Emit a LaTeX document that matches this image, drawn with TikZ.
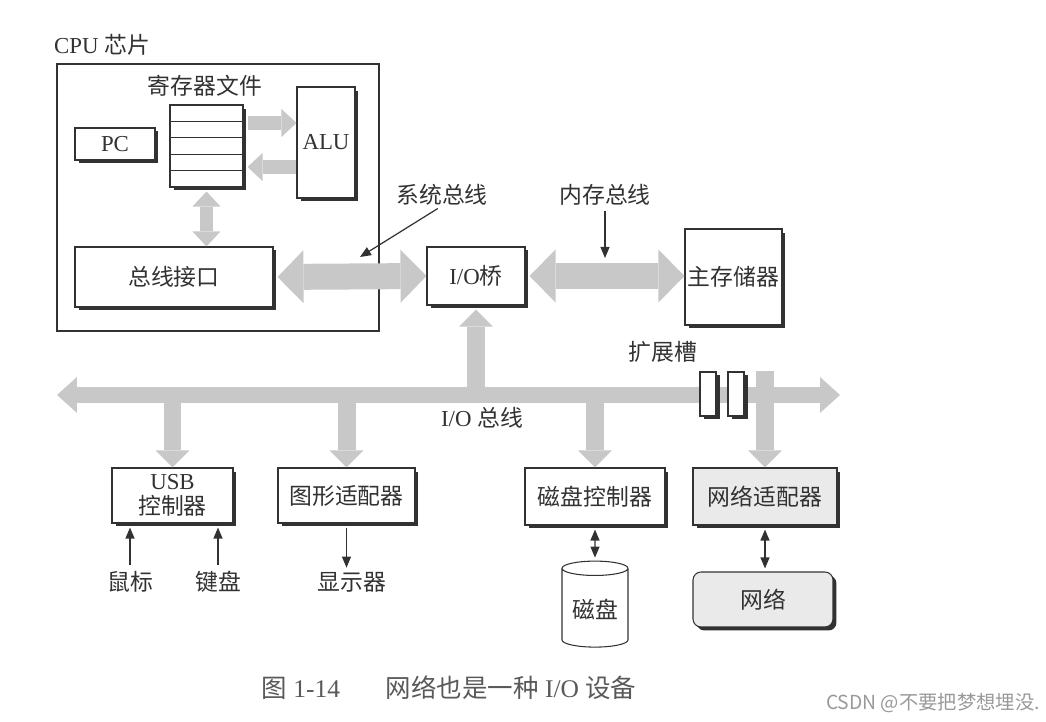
\documentclass[tikz,border=0pt]{standalone}
\usepackage{fontspec}
\setmainfont{Liberation Serif}
\newfontfamily\cjk{Noto Sans CJK SC}
\usetikzlibrary{arrows.meta,positioning,calc,shadows,shapes.geometric}
\definecolor{tc}{RGB}{50,50,50}
\definecolor{bc}{RGB}{200,200,200}
\definecolor{nc}{RGB}{234,234,234}
\newcommand{\zh}[1]{{\cjk #1}}
\tikzset{every node/.style={font=\fontsize{13}{14}\selectfont,text=tc},
 lbl/.style={inner sep=0pt},
 chip/.style={draw=tc,line width=1.2pt,minimum width=6.44cm,minimum height=5.34cm},
 box/.style={draw=tc,fill=white,line width=.6pt,inner sep=1pt,align=center,
  drop shadow={shadow xshift=.07cm,shadow yshift=-.07cm,fill=tc,opacity=1}},
 pale/.style={box,fill=nc},
 cyl/.style={cylinder,shape border rotate=90,aspect=.25,draw=tc,fill=white,line width=.6pt,
  minimum width=1.32cm,minimum height=1.72cm},
 mar/.style={bc,line width=.28cm,arrows={-Triangle[length=.3cm,width=.56cm,line width=0pt]}},
 mbi/.style={bc,line width=.28cm,arrows={Triangle[length=.3cm,width=.56cm,line width=0pt]-Triangle[length=.3cm,width=.56cm,line width=0pt]}},
 bbi/.style={bc,line width=.52cm,arrows={Triangle[length=.52cm,width=1.06cm,line width=0pt]-Triangle[length=.52cm,width=1.06cm,line width=0pt]}},
 iob/.style={bc,line width=.32cm,arrows={Triangle[length=.4cm,width=.72cm,line width=0pt]-Triangle[length=.4cm,width=.72cm,line width=0pt]}},
 dar/.style={bc,line width=.36cm,arrows={-Triangle[length=.34cm,width=.68cm,line width=0pt]}},
 tar/.style={tc,line width=.7pt,arrows={-Triangle[length=.22cm,width=.18cm]}},
 tbi/.style={tc,line width=.7pt,arrows={Triangle[length=.22cm,width=.18cm]-Triangle[length=.22cm,width=.18cm]}}}
\begin{document}
\begin{tikzpicture}[x=.02cm,y=-.02cm]
\useasboundingbox (0,0) rectangle (1046,722);
% CPU chip
\node[lbl] (cpul) at (102,45) {CPU \zh{芯片}};
\node[chip] (cpu) at (218,197.5) {};
\node[lbl] (regl) at (205,86) {\zh{寄存器文件}};
\node[box,minimum width=1.46cm,minimum height=1.64cm] (reg) at (206.5,146) {};
\foreach \k in {1,...,4}
  \draw[tc,line width=.6pt] ($(reg.north west)!\k/5!(reg.south west)$) -- ($(reg.north east)!\k/5!(reg.south east)$);
\node[box,minimum width=1.16cm,minimum height=2.22cm] (alu) at (326,142.5) {ALU};
\node[box,minimum width=1.6cm,minimum height=.64cm] (pc) at (115,144) {PC};
\node[box,minimum width=3.96cm,minimum height=1.2cm] (bi) at (174,277) {\zh{总线接口}};
\coordinate (ra) at ([yshift=.46cm]reg.east);
\coordinate (rb) at ([yshift=-.42cm]reg.east);
\draw[mar,shorten <=.08cm] (ra) -- (ra -| alu.west);
\draw[mar,shorten >=.08cm] (rb -| alu.west) -- (rb);
\draw[mbi,shorten <=.08cm] (reg.south) -- (reg.south |- bi.north);
% bridge and memory
\node[box,minimum width=1.96cm,minimum height=1.16cm] (bridge) at (476,276) {I/O\zh{桥}};
\node[box,minimum width=1.94cm,minimum height=1.92cm] (mem) at (733.5,277) {\zh{主存储器}};
\draw[bbi,shorten <=.08cm] (bi.east) -- (bridge.west);
\draw[bbi,shorten <=.08cm] (bridge.east) -- (bridge.east -| mem.west);
\node[lbl] (sysl) at (442,195) {\zh{系统总线}};
\node[lbl] (meml) at (605,195) {\zh{内存总线}};
\coordinate (sp) at (360,257);
\coordinate (mp) at (605,258);
\draw[tar,shorten <=.1cm] (sysl.south) -- (sp);
\draw[tar,shorten <=.1cm] (meml.south) -- (mp);
% I/O bus
\coordinate (bl) at (57,395);
\coordinate (br) at (840,395);
\draw[iob] (bl) -- (br);
\draw[dar,shorten >=.08cm] (bridge.south |- bl) -- (bridge.south);
\node[box,minimum width=.32cm,minimum height=.88cm] (sl1) at (708,394) {};
\node[box,minimum width=.32cm,minimum height=.88cm] (sl2) at (736,394) {};
\node[lbl] (slotl) at (663,352) {\zh{扩展槽}};
\node[lbl] (iobl) at (482,418) {I/O \zh{总线}};
% devices
\node[box,minimum width=2.42cm,minimum height=1.1cm] (usb) at (172.5,495.5) {USB\\\zh{控制器}};
\node[box,minimum width=2.74cm,minimum height=1.1cm] (gfx) at (346.5,495.5) {\zh{图形适配器}};
\node[box,minimum width=2.8cm,minimum height=1.14cm] (dctl) at (595,496.5) {\zh{磁盘控制器}};
\node[pale,minimum width=2.88cm,minimum height=1.14cm] (netad) at (765,496.5) {\zh{网络适配器}};
\foreach \d in {usb,gfx,dctl}
  \draw[dar] (\d.north |- bl) -- (\d.north);
\draw[dar] (netad.north |- sl2.north) -- (netad.north);
\node[lbl] (mouse) at (130,582) {\zh{鼠标}};
\node[lbl] (kbd) at (218,582) {\zh{键盘}};
\node[lbl] (disp) at (352,582) {\zh{显示器}};
\node[cyl] (disk) at (595,610) {\zh{磁盘}};
\node[pale,rounded corners=.16cm,minimum width=2.8cm,minimum height=1.1cm] (net) at (763,599.5) {\zh{网络}};
\draw[tar,shorten <=.12cm,shorten >=.08cm] (mouse.north) -- (mouse.north |- usb.south);
\draw[tar,shorten <=.12cm,shorten >=.08cm] (kbd.north) -- (kbd.north |- usb.south);
\draw[tar,shorten <=.08cm,shorten >=.08cm] (gfx.south) -- (gfx.south |- disp.north);
\draw[tbi,shorten <=.08cm,shorten >=.06cm] (dctl.south) -- (disk.north);
\draw[tbi,shorten <=.08cm,shorten >=.06cm] (netad.south) -- (netad.south |- net.north);
% caption
\node[lbl,font=\fontsize{14.5}{16}\selectfont,text=black!65] (cap) at (449,688)
  {\zh{图}~1-14\hspace{1.8em}\zh{网络也是一种}~I/O~\zh{设备}};
\node[lbl,font=\cjk\fontsize{11}{13}\selectfont,text=black!40] (wm) at (933,703) {CSDN @不要把梦想埋没.};
\end{tikzpicture}
\end{document}
